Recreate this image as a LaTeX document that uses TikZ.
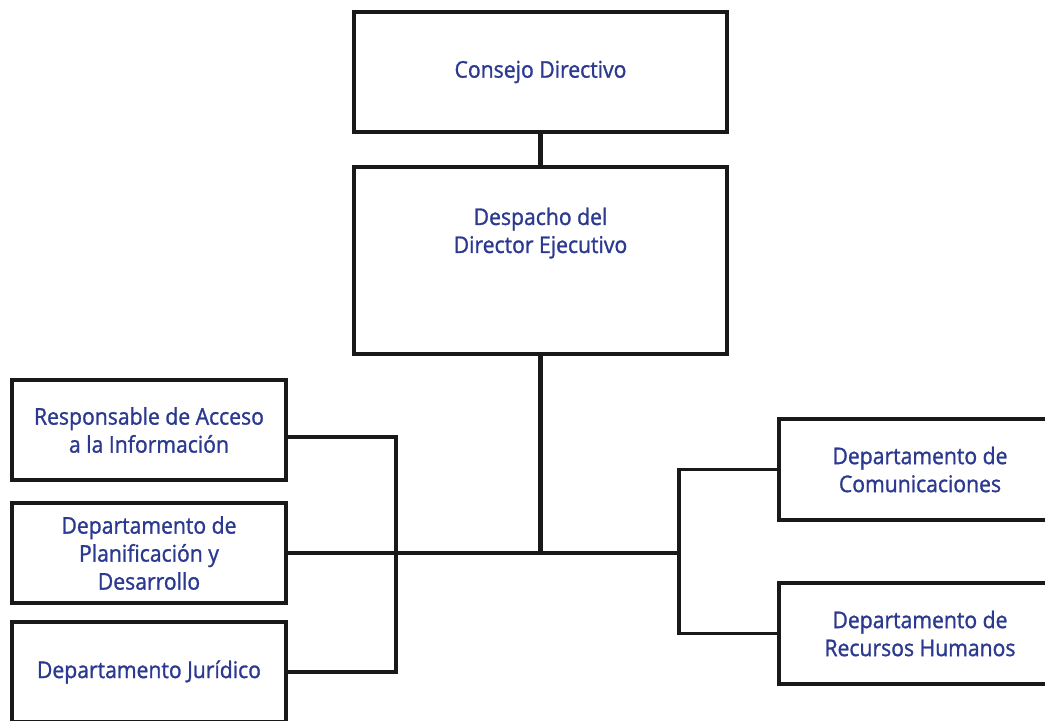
\documentclass[tikz,border=0pt]{standalone}
\usepackage{fontspec}
\setmainfont{Open Sans}[FakeStretch=0.92,FakeBold=1.2]
\usepackage{xcolor}
\usepackage{tikz}
\definecolor{orgblue}{HTML}{2B3990}
\newcommand{\orgfont}{\fontsize{23bp}{28bp}\selectfont}

\begin{document}
\begin{tikzpicture}[x=1bp,y=-1bp,
    unit/.style={draw=black!90, line width=4bp, rectangle, inner sep=0pt,
        text=orgblue, font=\orgfont, align=center},
    lbox/.style={unit, minimum width=274bp, minimum height=100bp},
    rbox/.style={unit, minimum width=282bp, minimum height=101bp},
    trunk/.style={draw=black!90, line width=4.5bp},
    branch/.style={draw=black!90, line width=3.4bp}]
    \useasboundingbox (0,0) rectangle (1045,721);
    % upper boxes
    \node[unit, minimum width=373bp, minimum height=120bp] (consejo) at (540.5,72) {Consejo Directivo};
    \node[unit, minimum width=373bp, minimum height=187bp] (despacho) at (540.5,260.5) {};
    \node[text=orgblue, font=\orgfont, align=center] (despachotxt) at (540.5,233) {Despacho del\\Director Ejecutivo};
    % left boxes
    \node[lbox] (acceso) at (149,430) {Responsable de Acceso\\a la Información};
    \node[lbox] (plan) at (149,553) {Departamento de\\Planificación y\\Desarrollo};
    \node[lbox] (juridico) at (149,672) {Departamento Jurídico};
    % right boxes
    \node[rbox] (comunic) at (920,469.5) {Departamento de\\Comunicaciones};
    \node[rbox] (rrhh) at (920,633.5) {Departamento de\\Recursos Humanos};
    \coordinate (lbar) at (396,553);
    \coordinate (hub) at (679,553);
    % connectors
    \draw[trunk] (consejo.south) -- (despacho.north);
    \draw[trunk] (despacho.south) -- (despacho.south |- plan.east);
    \draw[trunk] (plan.east) -- (hub);
    \draw[branch] ([yshift=-7bp]acceso.east) -| (lbar) |- (juridico.east);
    \draw[branch] (comunic.west) -| (hub) |- (rrhh.west);
\end{tikzpicture}
\end{document}
